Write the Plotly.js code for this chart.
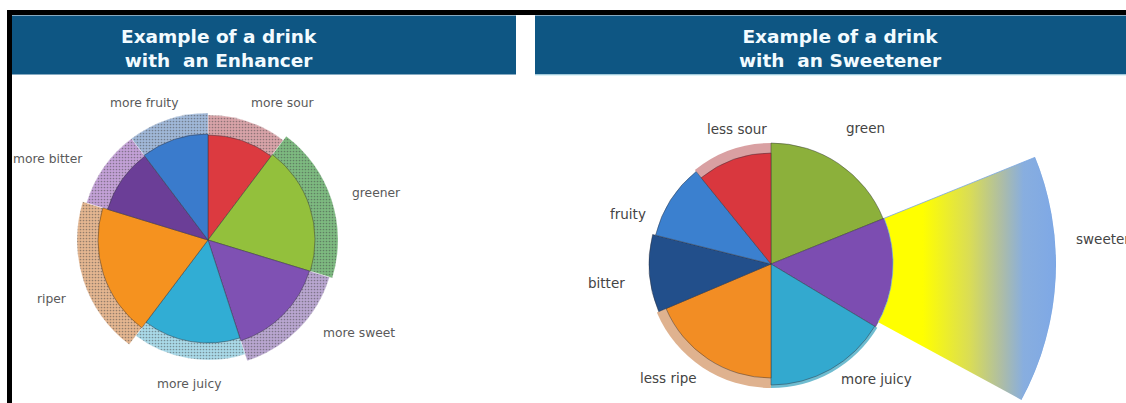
<!DOCTYPE html>
<html>
<head>
<meta charset="utf-8">
<script src="https://cdn.plot.ly/plotly-3.0.1.min.js"></script>
<style>
html,body{margin:0;padding:0;background:#ffffff;overflow:hidden;}
#chart{width:1126px;height:403px;}
</style>
</head>
<body>
<div id="chart"></div>
<script>
// ---------- DATA ----------
// Left panel: "Example of a drink with an Enhancer" (clockwise from 12 o'clock)
const enhCategories = ['more sour', 'greener', 'more sweet', 'more juicy', 'riper', 'more bitter', 'more fruity'];
const enhShare      = [37, 70, 55, 55, 70, 36, 37];          // angular share of each slice (degrees)
const enhBase       = [105, 107, 106, 103, 110, 105, 106];   // radius of the inner pie slice
const enhEnhanced   = [125, 130, 127, 120, 131, 127, 127];   // radius of the outer "enhanced" ring

// Right panel: "Example of a drink with an Sweetener" (clockwise from 12 o'clock)
const swCategories  = ['green', 'sweet', 'more juicy', 'less ripe', 'bitter', 'fruity', 'less sour'];
const swShare       = [68, 53, 59, 67, 37, 37, 39];
const swBase        = [121, 122, 121, 114, 122, 119, 111];
const swShadow      = [0, 0, 124, 124, 0, 0, 121];
const swLabels      = ['green', '', 'more juicy', 'less ripe', 'bitter', 'fruity', 'less sour'];
const sweetenerCategory = 'sweeter';
const sweetenerReach = 285;                                    // outer radius of the sweetener sector

const titleLeft  = 'Example of a drink<br>with\u00a0 an Enhancer';
const titleRight = 'Example of a drink<br>with\u00a0 an Sweetener';

// ---------- STYLE / LAYOUT ----------
const W = 1126, H = 403;
const px = x => x / W;
const py = y => 1 - y / H;

const enhColors     = ['#dc3a40', '#93c03c', '#7f51b3', '#31add4', '#f5921f', '#6b3e97', '#3a7bcc'];
const enhRingColors = ['#d8a3a8', '#7dba80', '#b9a6d0', '#a9d9e8', '#e4b690', '#c3a1d7', '#a0b8d8'];
const enhRingDots   = ['#c4959a', '#6aa96d', '#a895c2', '#98cbdc', '#d3a67f', '#b290c6', '#8ea7ca'];
const swColors      = ['#8cb03b', '#7c4db1', '#33a9cf', '#f28d24', '#224f8b', '#3b80cf', '#d9373e'];
const swShadowColors= ['#ffffff', '#ffffff', '#6fbcd0', '#dfb28f', '#ffffff', '#ffffff', '#d9a0a2'];
const SWEET_FLAG = 'rgb(220, 224, 80)';

function centers(widths) {
  let s = 0;
  return widths.map(w => { const c = s + w / 2; s += w; return c; });
}

// domain that places a polar subplot's origin at (cx, cy) px with R px for the radial range
function polarDomain(cx, cy, R, sector) {
  const s0 = sector[0], s1 = sector[1];
  const pts = [[0, 0]];
  const ang = [s0, s1];
  for (let a = -720; a <= 720; a += 90) if (a > s0 && a < s1) ang.push(a);
  ang.forEach(a => pts.push([Math.cos(a * Math.PI / 180), Math.sin(a * Math.PI / 180)]));
  let bx0 = Math.min(...pts.map(p => p[0])), bx1 = Math.max(...pts.map(p => p[0]));
  let by0 = Math.min(...pts.map(p => p[1])), by1 = Math.max(...pts.map(p => p[1]));
  if (s1 - s0 >= 360) { bx0 = -1; bx1 = 1; by0 = -1; by1 = 1; }
  return {
    x: [px(cx + R * bx0), px(cx + R * bx1)],
    y: [py(cy - R * by0), py(cy - R * by1)]
  };
}

const hiddenPolar = (dom, rmax, sector) => ({
  domain: dom,
  sector: sector,
  bgcolor: 'rgba(0,0,0,0)',
  barmode: 'overlay',
  hole: 0,
  radialaxis: {visible: false, range: [0, rmax], showgrid: false, showline: false, showticklabels: false, ticks: ''},
  angularaxis: {visible: false, direction: 'clockwise', rotation: 90, showgrid: false, showline: false, showticklabels: false, ticks: ''}
});

const enhTheta = centers(enhShare);
const swTheta = centers(swShare);
const edge = 'rgba(50,50,60,0.45)';

const traces = [
  // left outer ring
  {type: 'barpolar', subplot: 'polar', r: enhEnhanced, theta: enhTheta, width: enhShare,
   text: enhCategories, hoverinfo: 'text',
   marker: {color: enhRingColors, line: {color: 'rgba(255,255,255,0.6)', width: 0.5},
            pattern: {shape: '.', size: 3, solidity: 0.25, fgcolor: enhRingDots, fillmode: 'overlay'}}},
  // left inner pie
  {type: 'barpolar', subplot: 'polar', r: enhBase, theta: enhTheta, width: enhShare,
   text: enhCategories, hoverinfo: 'text',
   marker: {color: enhColors, line: {color: edge, width: 1}}},
  // right shadow rims
  {type: 'barpolar', subplot: 'polar2', r: swShadow, theta: swTheta, width: swShare,
   text: swCategories, hoverinfo: 'text',
   marker: {color: swShadowColors, line: {width: 0}}},
  // right pie
  {type: 'barpolar', subplot: 'polar2', r: swBase, theta: swTheta, width: swShare,
   text: swCategories, hoverinfo: 'text',
   marker: {color: swColors, line: {color: edge, width: 1}}},
  // sweetener sector
  {type: 'barpolar', subplot: 'polar3', r: [sweetenerReach - swBase[1]], base: [swBase[1]],
   theta: [swTheta[1]], width: [swShare[1]], text: [sweetenerCategory], hoverinfo: 'text',
   marker: {color: SWEET_FLAG, line: {color: 'rgba(120,165,225,0.8)', width: 1}}}
];

const leftCenter = [208, 240], rightCenter = [771, 264];

const enhLabelPos = [[282, 103], [376, 193], [359, 333], [189, 384], [52, 299], [48, 159], [144, 103]];
const swLabelPos  = [[865, 128], null, [876, 379], [668, 378], [606, 283], [628, 214], [737, 129]];

const annotations = [];
const labelFontL = {family: 'DejaVu Sans', size: 12.3, color: '#5a5a5a'};
const labelFontR = {family: 'DejaVu Sans', size: 13.5, color: '#444444'};
enhCategories.forEach((c, i) => {
  annotations.push({xref: 'paper', yref: 'paper', x: px(enhLabelPos[i][0]), y: py(enhLabelPos[i][1]),
    text: c, showarrow: false, xanchor: 'center', yanchor: 'middle', font: labelFontL});
});
swLabels.forEach((c, i) => {
  if (!c) return;
  annotations.push({xref: 'paper', yref: 'paper', x: px(swLabelPos[i][0]), y: py(swLabelPos[i][1]),
    text: c, showarrow: false, xanchor: 'center', yanchor: 'middle', font: labelFontR});
});
annotations.push({xref: 'paper', yref: 'paper', x: px(1074), y: py(239), text: sweetenerCategory,
  showarrow: false, xanchor: 'left', yanchor: 'middle', font: labelFontR});

const titleFont = {family: 'DejaVu Sans', size: 18.5, color: '#f2fbff', weight: 'bold'};
annotations.push({xref: 'paper', yref: 'paper', x: px(219), y: py(48), text: titleLeft, showarrow: false,
  xanchor: 'center', yanchor: 'middle', align: 'center', font: titleFont});
annotations.push({xref: 'paper', yref: 'paper', x: px(840), y: py(48), text: titleRight, showarrow: false,
  xanchor: 'center', yanchor: 'middle', align: 'center', font: titleFont});

const shapes = [
  {type: 'rect', xref: 'paper', yref: 'paper', x0: px(12), x1: px(516), y0: py(74.5), y1: py(15.5),
   fillcolor: '#0e5683', line: {width: 0}, layer: 'below'},
  {type: 'rect', xref: 'paper', yref: 'paper', x0: px(535), x1: px(1126), y0: py(74.5), y1: py(15.5),
   fillcolor: '#0e5683', line: {width: 0}, layer: 'below'},
  {type: 'line', xref: 'paper', yref: 'paper', x0: px(535), x1: px(1126), y0: py(75), y1: py(75),
   line: {color: '#bfe8f2', width: 1}, layer: 'below'},
  {type: 'rect', xref: 'paper', yref: 'paper', x0: px(7), x1: px(12), y0: 0, y1: py(10),
   fillcolor: '#000000', line: {width: 0}},
  {type: 'rect', xref: 'paper', yref: 'paper', x0: px(7), x1: 1, y0: py(15), y1: py(10),
   fillcolor: '#000000', line: {width: 0}}
];

const layout = {
  width: W, height: H,
  margin: {l: 0, r: 0, t: 0, b: 0, pad: 0},
  paper_bgcolor: '#ffffff',
  plot_bgcolor: '#ffffff',
  showlegend: false,
  polar:  hiddenPolar(polarDomain(leftCenter[0], leftCenter[1], 135, [0, 360]), 135, [0, 360]),
  polar2: hiddenPolar(polarDomain(rightCenter[0], rightCenter[1], 130, [0, 360]), 130, [0, 360]),
  polar3: hiddenPolar(polarDomain(rightCenter[0], rightCenter[1], sweetenerReach, [-28.5, 23]), sweetenerReach, [-28.5, 23]),
  shapes: shapes,
  annotations: annotations
};

Plotly.newPlot('chart', traces, layout, {displayModeBar: false, staticPlot: true}).then(gd => {
  const ns = 'http://www.w3.org/2000/svg';
  const svg = gd.querySelector('svg.main-svg');
  const defs = document.createElementNS(ns, 'defs');
  const lg = document.createElementNS(ns, 'linearGradient');
  lg.setAttribute('id', 'sweetGrad');
  lg.setAttribute('x1', '0'); lg.setAttribute('y1', '0');
  lg.setAttribute('x2', '1'); lg.setAttribute('y2', '0');
  [[0, '#ffff00'], [0.26, '#ffff00'], [0.52, '#dadd55'], [0.7, '#adbda6'], [0.82, '#88aedf'], [1, '#7ea8e6']]
    .forEach(([o, c]) => {
      const st = document.createElementNS(ns, 'stop');
      st.setAttribute('offset', o); st.setAttribute('stop-color', c);
      lg.appendChild(st);
    });
  defs.appendChild(lg);
  svg.insertBefore(defs, svg.firstChild);
  gd.querySelectorAll('path').forEach(p => {
    const f = (p.style.fill || '').replace(/\s/g, '');
    if (f === SWEET_FLAG.replace(/\s/g, '')) p.style.fill = 'url(#sweetGrad)';
  });
});
</script>
</body>
</html>
